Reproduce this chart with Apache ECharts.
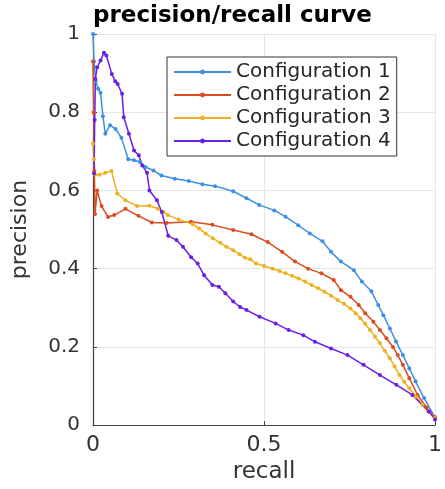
<!DOCTYPE html>
<html>
<head>
<meta charset="utf-8">
<script src="https://cdn.jsdelivr.net/npm/echarts@6/dist/echarts.min.js"></script>
<style>
  html, body { margin: 0; padding: 0; background: #fff; }
  #chart { width: 445px; height: 489px; }
</style>
</head>
<body>
<div id="chart"></div>
<script>
// tick labels
const xTicks = [0, 0.5, 1];
const yTicks = [0, 0.2, 0.4, 0.6, 0.8, 1];

const names = ["Configuration 1", "Configuration 2", "Configuration 3", "Configuration 4"];

// Configuration 1
const recall1 = [0, 0.003, 0.008, 0.015, 0.022, 0.029, 0.036, 0.05, 0.066, 0.083, 0.103, 0.12, 0.137, 0.153, 0.177, 0.2, 0.239, 0.28, 0.32, 0.357, 0.41, 0.449, 0.486, 0.53, 0.563, 0.6, 0.634, 0.671, 0.696, 0.725, 0.763, 0.786, 0.814, 0.834, 0.849, 0.868, 0.886, 0.906, 0.925, 0.943, 0.968, 1.0];
const prec1 = [1.0, 0.93, 0.88, 0.86, 0.85, 0.79, 0.745, 0.767, 0.757, 0.735, 0.68, 0.677, 0.673, 0.66, 0.651, 0.638, 0.63, 0.624, 0.616, 0.611, 0.598, 0.58, 0.563, 0.549, 0.533, 0.511, 0.49, 0.47, 0.443, 0.418, 0.396, 0.367, 0.342, 0.307, 0.281, 0.247, 0.214, 0.179, 0.145, 0.112, 0.069, 0.02];

// Configuration 2
const recall2 = [0, 0.002, 0.004, 0.006, 0.012, 0.025, 0.044, 0.062, 0.095, 0.133, 0.172, 0.215, 0.287, 0.349, 0.41, 0.463, 0.511, 0.553, 0.591, 0.629, 0.668, 0.704, 0.725, 0.753, 0.777, 0.796, 0.82, 0.839, 0.858, 0.877, 0.891, 0.906, 0.925, 0.949, 0.975, 1.0];
const prec2 = [0.93, 0.8, 0.65, 0.54, 0.6, 0.56, 0.532, 0.537, 0.553, 0.535, 0.518, 0.517, 0.52, 0.512, 0.499, 0.488, 0.468, 0.443, 0.418, 0.4, 0.388, 0.371, 0.345, 0.328, 0.307, 0.286, 0.264, 0.243, 0.222, 0.2, 0.179, 0.154, 0.12, 0.077, 0.045, 0.02];

// Configuration 3
const recall3 = [0, 0.003, 0.006, 0.019, 0.036, 0.054, 0.071, 0.095, 0.129, 0.165, 0.19, 0.206, 0.219, 0.25, 0.291, 0.31, 0.329, 0.35, 0.372, 0.39, 0.41, 0.428, 0.444, 0.46, 0.477, 0.5, 0.525, 0.545, 0.563, 0.582, 0.601, 0.62, 0.639, 0.658, 0.677, 0.696, 0.715, 0.734, 0.753, 0.768, 0.782, 0.796, 0.81, 0.825, 0.839, 0.853, 0.868, 0.882, 0.896, 0.91, 0.925, 0.944, 0.963, 0.98, 1.0];
const prec3 = [0.72, 0.68, 0.64, 0.64, 0.645, 0.65, 0.592, 0.575, 0.56, 0.561, 0.553, 0.545, 0.537, 0.526, 0.514, 0.503, 0.49, 0.478, 0.466, 0.456, 0.447, 0.437, 0.428, 0.424, 0.413, 0.407, 0.4, 0.394, 0.388, 0.382, 0.375, 0.367, 0.358, 0.35, 0.341, 0.331, 0.32, 0.31, 0.298, 0.286, 0.273, 0.259, 0.243, 0.226, 0.209, 0.19, 0.171, 0.15, 0.128, 0.111, 0.094, 0.073, 0.052, 0.035, 0.018];

// Configuration 4
const recall4 = [0.003, 0.005, 0.007, 0.012, 0.022, 0.032, 0.039, 0.055, 0.065, 0.072, 0.085, 0.09, 0.105, 0.12, 0.134, 0.144, 0.158, 0.165, 0.187, 0.201, 0.22, 0.244, 0.263, 0.287, 0.306, 0.325, 0.349, 0.368, 0.387, 0.41, 0.43, 0.449, 0.487, 0.534, 0.572, 0.615, 0.649, 0.696, 0.744, 0.791, 0.839, 0.887, 0.934, 0.982, 1.0];
const prec4 = [0.643, 0.78, 0.885, 0.915, 0.932, 0.952, 0.945, 0.898, 0.879, 0.872, 0.847, 0.787, 0.745, 0.702, 0.69, 0.664, 0.645, 0.6, 0.575, 0.545, 0.484, 0.473, 0.456, 0.429, 0.413, 0.383, 0.358, 0.354, 0.337, 0.316, 0.302, 0.294, 0.277, 0.26, 0.243, 0.23, 0.213, 0.196, 0.179, 0.154, 0.128, 0.103, 0.077, 0.035, 0.014];

const colors = ["#3d8fe6", "#dc4a20", "#edb120", "#6a1fe6"];
const recalls = [recall1, recall2, recall3, recall4];
const precs = [prec1, prec2, prec3, prec4];

const font = "'DejaVu Sans', 'Liberation Sans', Arial, sans-serif";

let myChart = echarts.init(document.getElementById("chart"));
myChart.setOption({
  animation: false,
  backgroundColor: "#fff",
  title: {
    text: "precision/recall curve",
    left: 93,
    top: 5,
    padding: 0,
    textStyle: { fontFamily: font, fontWeight: "bold", fontSize: 23, color: "#000" },
  },
  legend: {
    data: names,
    orient: "vertical",
    left: 167,
    top: 57,
    padding: [4, 6],
    itemWidth: 57,
    itemHeight: 6,
    itemGap: 1,
    backgroundColor: "#fff",
    borderColor: "#333",
    borderWidth: 1,
    textStyle: { fontFamily: font, fontSize: 20, lineHeight: 22, color: "#262626" },
  },
  grid: { left: 93, right: 2, top: 34, bottom: 62 },
  xAxis: {
    type: "value",
    min: 0,
    max: 1,
    interval: 0.5,
    name: "recall",
    nameLocation: "middle",
    nameGap: 33,
    nameTextStyle: { fontFamily: font, fontSize: 23, color: "#333" },
    axisLine: { lineStyle: { color: "#404040", width: 1.2 } },
    axisTick: { inside: true, length: 4, lineStyle: { color: "#404040" } },
    axisLabel: {
      fontFamily: font, fontSize: 22, color: "#333", margin: 9,
      formatter: (v) => (xTicks.includes(v) ? String(v) : ""),
    },
    splitLine: { show: true, lineStyle: { color: "#e6e6e6" } },
  },
  yAxis: {
    type: "value",
    min: 0,
    max: 1,
    interval: 0.2,
    name: "precision",
    nameLocation: "middle",
    nameGap: 62,
    nameRotate: 90,
    nameTextStyle: { fontFamily: font, fontSize: 22, color: "#333" },
    axisLine: { show: true, lineStyle: { color: "#404040", width: 1.2 } },
    axisTick: { show: true, inside: true, length: 4, lineStyle: { color: "#404040" } },
    axisLabel: {
      fontFamily: font, fontSize: 20, color: "#333", margin: 13,
      formatter: (v) => {
        let t = yTicks.find((k) => Math.abs(k - v) < 1e-9);
        return t === undefined ? "" : String(t);
      },
    },
    splitLine: { show: true, lineStyle: { color: "#e6e6e6" } },
  },
  series: names.map((name, i) => ({
    name: name,
    type: "line",
    data: recalls[i].map((r, j) => [r, precs[i][j]]),
    symbol: "circle",
    symbolSize: 4,
    showAllSymbol: true,
    clip: false,
    color: colors[i],
    lineStyle: { width: 1.5, color: colors[i] },
    itemStyle: { color: colors[i] },
  })),
});
</script>
</body>
</html>
